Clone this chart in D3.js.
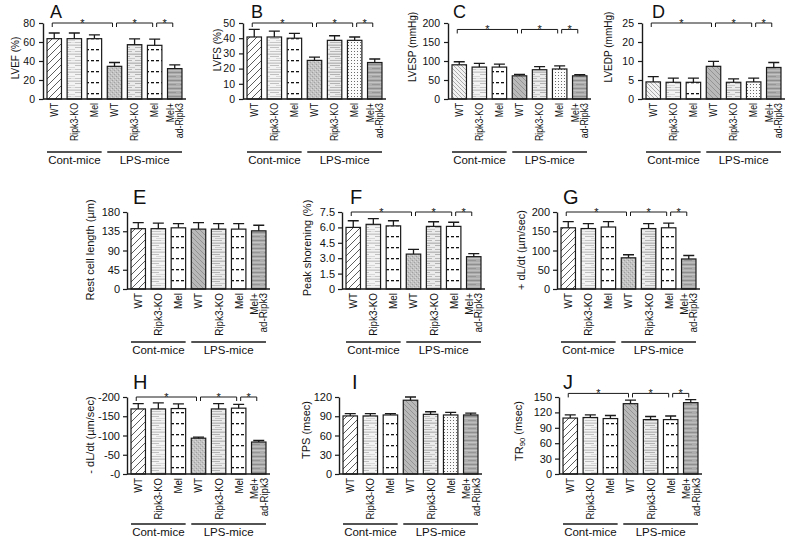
<!DOCTYPE html>
<html><head><meta charset="utf-8">
<script src="https://cdn.jsdelivr.net/npm/d3@7"></script>
<style>
body{margin:0;background:#fff}
svg{display:block}
text{font-family:"Liberation Sans",Arial,sans-serif;fill:#111}
</style>
</head><body>
<svg id="c" width="789" height="539"></svg>
<script>
// ---------- data ----------
const categories = ["WT","Ripk3-KO","Mel","WT","Ripk3-KO","Mel","Mel+|ad-Ripk3"];
const groupLabels = ["Cont-mice","LPS-mice"];
const sigPairs = [[0,3],[3,5],[5,6]];

const lvef      = [63.5,63.5,63.5,34.4,57.2,56.5,32];
const lvefErr   = [6,6,4,4,6,6.5,4];
const lvfs      = [40.8,40.8,40,25.4,38.6,38.6,24];
const lvfsErr   = [5,3.8,3.2,2.2,3,2.2,2.3];
const lvesp     = [90,84,84,61,77,79,61];
const lvespErr  = [8,10,8,4,8,8,3];
const lvedp     = [4.5,4.4,4.4,8.6,4.4,4.5,8.3];
const lvedpErr  = [1.4,1.1,1.1,1.3,0.9,1.0,1.3];
const restLen   = [141,141,143,140,140,140,136];
const restLenErr= [14,13,10,15,13,13,13];
const peak      = [6.0,6.3,6.15,3.4,6.1,6.1,3.15];
const peakErr   = [0.65,0.55,0.5,0.45,0.45,0.4,0.3];
const plusDl    = [159,157,161,81,157,159,78];
const plusDlErr = [16,13,14,8,13,12,9];
const minusDl   = [169,169,170,93,169,171,83];
const minusDlErr= [14,16,12,3,14,10,4];
const tps       = [90.5,90.5,92,115,93,92,92];
const tpsErr    = [3.5,3.5,2,5,4,4,3];
const tr90      = [109,110,108,137,106,106,139];
const tr90Err   = [6,5,6,7,6,7,6];

const ticksA = [0,20,40,60,80];
const ticksB = [0,10,20,30,40,50];
const ticksC = [0,50,100,150,200];
const ticksD = [0,5,10,15,20];
const tickLabelsD = ["0","5","10","20","25"];
const ticksE = [0,45,90,135,180];
const ticksF = [0,1.5,3,4.5,6,7.5];
const tickLabelsF = ["0","1.5","3.0","4.5","6.0","7.5"];
const ticksG = [0,50,100,150,200];
const ticksH = [0,50,100,150,200];
const tickLabelsH = ["-0","-50","-100","-150","-200"];
const ticksI = [0,30,60,90,120];
const ticksJ = [0,30,60,90,120,150];

// ---------- layout ----------
const rows = [
  {top:23, bottom:99, tickFont:10.5, tickPad:4, titleFont:10, xFont:10, xScale:0.88, letterFont:18, letterY:18, lineSp:8.5, groupDy:53},
  {top:212,bottom:289,tickFont:11, tickPad:3, titleFont:11, xFont:11, xScale:0.9, letterFont:20, letterY:204, lineSp:9.5, groupDy:53},
  {top:397,bottom:474,tickFont:11, tickPad:3, titleFont:11, xFont:11, xScale:0.87, letterFont:20, letterY:389, lineSp:10, groupDy:50}
];

const panels = [
 {letter:"A", title:"LVEF (%)", v:lvef, e:lvefErr, dom:[0,80], ticks:ticksA, sig:80, row:0, x0:43, tX:-28, tY:58, lX:7, b1:"diag", b4:"dots", b6:"dash"},
 {letter:"B", title:"LVFS (%)", v:lvfs, e:lvfsErr, dom:[0,50], ticks:ticksB, sig:50, row:0, x0:243, tX:-26, tY:50, lX:8, b1:"diag", b4:"dots", b6:"dotw"},
 {letter:"C", title:"LVESP (mmHg)", v:lvesp, e:lvespErr, dom:[0,200], ticks:ticksC, sig:183, row:0, x0:448, tX:-36, tY:47, lX:5, b1:"diag2", b4:"diagg", b6:"dotw"},
 {letter:"D", title:"LVEDP (mmHg)", v:lvedp, e:lvedpErr, dom:[0,20], ticks:ticksD, labels:tickLabelsD, sig:20, row:0, x0:642, tX:-34, tY:47, lX:10, b1:"diag2", b4:"diagg", b6:"dotw"},
 {letter:"E", title:"Rest cell length (µm)", v:restLen, e:restLenErr, dom:[0,180], ticks:ticksE, sig:null, row:1, x0:127, tX:-37, tY:250, lX:6, b1:"diag", b4:"diagg", b6:"dash"},
 {letter:"F", title:"Peak shorening (%)", v:peak, e:peakErr, dom:[0,7.5], ticks:ticksF, labels:tickLabelsF, sig:7.5, row:1, x0:342, tX:-35, tY:248, lX:8, b1:"diag", b4:"dots", b6:"dash"},
 {letter:"G", title:"+ dL/dt (µm/sec)", v:plusDl, e:plusDlErr, dom:[0,200], ticks:ticksG, sig:200, row:1, x0:557, tX:-36, tY:250, lX:6, b1:"diag", b4:"dots", b6:"dash"},
 {letter:"H", title:"- dL/dt (µm/sec)", v:minusDl, e:minusDlErr, dom:[0,200], ticks:ticksH, labels:tickLabelsH, sig:200, row:2, x0:127, tX:-37, tY:435, lX:6, b1:"diag", b4:"dots", b6:"dash"},
 {letter:"I", title:"TPS (msec)", v:tps, e:tpsErr, dom:[0,120], ticks:ticksI, sig:null, row:2, x0:339, tX:-33, tY:430, lX:13, b1:"diag", b4:"diagg", b6:"dotw"},
 {letter:"J", title:"TR90", v:tr90, e:tr90Err, dom:[0,150], ticks:ticksJ, sig:157, row:2, x0:559, tX:-40, tY:431, lX:4, b1:"diag", b4:"diagg", b6:"dash"}
];
const plotW = 143;

const svg = d3.select("#c");
const defs = svg.append("defs");

// ---------- patterns ----------
function pat(id, w, h, bg, build){
  const p = defs.append("pattern").attr("id",id).attr("patternUnits","userSpaceOnUse")
    .attr("width",w).attr("height",h);
  p.append("rect").attr("width",w).attr("height",h).attr("fill",bg);
  build(p);
}
pat("diag",7,7,"#fff",p=>p.append("path").attr("d","M0,7L7,0M-1,1L1,-1M6,8L8,6")
  .attr("stroke","#333").attr("stroke-width",0.8));
pat("diag2",4,4,"#f2f2f2",p=>p.append("path").attr("d","M0,0L4,4M-1,3L1,5M3,-1L5,1")
  .attr("stroke","#9a9a9a").attr("stroke-width",0.8));
function stripes(id,w,h,bg,list){
  pat(id,w,h,bg,p=>list.forEach(s=>p.append("rect").attr("x",s[0]).attr("y",s[1])
    .attr("width",s[2]).attr("height",s[3]||1).attr("fill",s[4])));
}
stripes("hlight",15,9,"#f3f3f3",[[0,0,15,1,"#cdcdcd"],[0,2,9,1,"#c0c0c0"],[6,4,9,1,"#d8d8d8"],[0,6,11,1,"#c6c6c6"],[11,6,4,1,"#e2e2e2"],[0,8,15,1,"#dcdcdc"]]);
stripes("hmid",15,9,"#ebebeb",[[0,0,15,1,"#bcbcbc"],[0,2,10,1,"#b2b2b2"],[5,4,10,1,"#cacaca"],[0,6,12,1,"#b8b8b8"],[0,8,15,1,"#d2d2d2"]]);
stripes("hdark",12,8,"#acacac",[[0,0,12,1,"#8e8e8e"],[0,2,12,1,"#c4c4c4"],[0,4,8,1,"#969696"],[0,6,12,1,"#bcbcbc"]]);
stripes("dash",5,11,"#fff",[[1,5,3,1.3,"#111"]]);
stripes("dots",4,4,"#c2c2c2",[[0,0,1,1,"#9e9e9e"],[2,2,1,1,"#a4a4a4"],[1,3,1,1,"#d6d6d6"],[3,1,1,1,"#dadada"]]);
stripes("dotw",3,3,"#fbfbfb",[[0,0,1,1,"#6a6a6a"]]);
pat("diagg",5,5,"#b9b9b9",p=>p.append("path").attr("d","M0,0L5,5M-1,4L1,6M4,-1L6,1")
  .attr("stroke","#8e8e8e").attr("stroke-width",0.9));

// ---------- draw ----------
panels.forEach(P=>{
  const R = rows[P.row];
  const g = svg.append("g");
  const x = d3.scaleBand().domain(d3.range(categories.length))
    .range([P.x0, P.x0+plotW]).paddingInner(0.28).paddingOuter(0.2);
  const y = d3.scaleLinear().domain(P.dom).range([R.bottom, R.top]);
  const bw = x.bandwidth();
  const fills = [P.b1,"hlight","dash",P.b4,"hmid",P.b6,"hdark"];

  // bars
  g.selectAll("rect.bar").data(P.v).join("rect")
    .attr("x",(d,i)=>x(i)).attr("width",bw)
    .attr("y",d=>y(d)).attr("height",d=>y(P.dom[0])-y(d))
    .attr("fill",(d,i)=>`url(#${fills[i]})`)
    .attr("stroke","#1a1a1a").attr("stroke-width",1.2);

  // error bars
  const cx = i => x(i)+bw/2;
  g.selectAll("path.err").data(P.v).join("path")
    .attr("d",(d,i)=>{
      const yt = y(d+P.e[i]);
      return `M${cx(i)},${y(d)}V${yt}M${cx(i)-5.5},${yt}H${cx(i)+5.5}`;
    })
    .attr("stroke","#1a1a1a").attr("stroke-width",1.3).attr("fill","none");

  // y axis
  const ax = d3.axisLeft(y).tickValues(P.ticks).tickSize(4).tickSizeOuter(0).tickPadding(R.tickPad)
    .tickFormat((d,i)=>P.labels?P.labels[i]:d3.format("d")(d));
  const ag = g.append("g").attr("transform",`translate(${P.x0},0)`).call(ax);
  ag.select(".domain").attr("stroke","#1a1a1a").attr("stroke-width",1.4);
  ag.selectAll(".tick line").attr("stroke","#1a1a1a").attr("stroke-width",1.2);
  ag.selectAll(".tick text").attr("font-size",R.tickFont)
    .attr("font-family",'"Liberation Sans",Arial,sans-serif').attr("fill","#111");

  // x baseline
  g.append("line").attr("x1",P.x0).attr("x2",P.x0+plotW)
    .attr("y1",R.bottom).attr("y2",R.bottom).attr("stroke","#1a1a1a").attr("stroke-width",1.4);

  // y title
  const tt = g.append("text")
    .attr("transform",`translate(${P.x0+P.tX},${P.tY}) rotate(-90)`)
    .attr("text-anchor","middle").attr("dy","0.35em").attr("font-size",R.titleFont);
  if(P.letter==="J"){
    tt.append("tspan").text("TR");
    tt.append("tspan").attr("font-size",R.titleFont*0.7).attr("dy","0.3em").text("90");
    tt.append("tspan").attr("dy","-0.3em").text(" (msec)");
  } else tt.text(P.title);

  // panel letter
  g.append("text").attr("x",P.x0+P.lX).attr("y",R.letterY)
    .attr("font-size",R.letterFont).text(P.letter);

  // x labels
  categories.forEach((c,i)=>{
    const parts = c.split("|");
    const t = g.append("text")
      .attr("transform",`translate(${cx(i)},${R.bottom+4}) rotate(-90) scale(${R.xScale},1)`)
      .attr("text-anchor","end").attr("font-size",R.xFont);
    if(parts.length===1){ t.attr("dy","0.36em").text(c); }
    else {
      parts.forEach((s,k)=>t.append("tspan").attr("x",0)
        .attr("y",(k-0.5)*R.lineSp).attr("dy","0.36em").text(s));
    }
  });

  // group lines + labels
  const gy = R.bottom+R.groupDy;
  [[0,2],[3,6]].forEach((r,k)=>{
    const xa = x(r[0]), xb = x(r[1])+bw;
    g.append("line").attr("x1",xa).attr("x2",xb).attr("y1",gy).attr("y2",gy)
      .attr("stroke","#1a1a1a").attr("stroke-width",1.4);
    g.append("text").attr("x",(xa+xb)/2).attr("y",gy+11.5).attr("text-anchor","middle")
      .attr("font-size",11.5).text(groupLabels[k]);
  });

  // significance brackets
  if(P.sig!==null){
    const ys = y(P.sig);
    sigPairs.forEach(pr=>{
      const x1 = cx(pr[0]) + (pr[0]===0?-2:2), x2 = cx(pr[1]) - 2;
      g.append("path").attr("d",`M${x1},${ys+4}V${ys}H${x2}V${ys+4}`)
        .attr("stroke","#1a1a1a").attr("stroke-width",1).attr("fill","none");
      g.append("text").attr("x",(x1+x2)/2).attr("y",ys+4).attr("text-anchor","middle")
        .attr("font-size",11).attr("fill","#111").text("*");
    });
  }
});
</script>
</body></html>
